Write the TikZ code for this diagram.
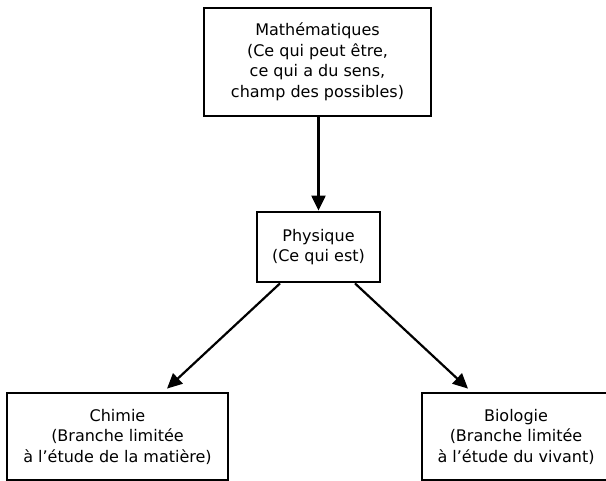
\documentclass[tikz,border=0pt]{standalone}
\usepackage{fontspec}
\setmainfont{DejaVu Sans}
\usetikzlibrary{arrows.meta}
\begin{document}
\begin{tikzpicture}[x=1pt,y=-1pt,
  box/.style={draw=black, line width=2.8pt, fill=white, inner sep=0pt, align=center,
    font={\fontsize{16}{20.5}\selectfont}},
  conn/.style={line width=2.2pt, -{Triangle[length=15pt,width=14pt]}}]
\useasboundingbox[fill=white] (0,0) rectangle (606,480);
\node[box, minimum width=227pt, minimum height=108pt] (m) at (317.5,62)
  {Mathématiques\\(Ce qui peut être,\\ce qui a du sens,\\champ des possibles)};
\node[box, minimum width=123pt, minimum height=70pt] (p) at (318.5,247)
  {Physique\\(Ce qui est)};
\node[box, minimum width=221pt, minimum height=87pt] (c) at (117.5,436.5)
  {Chimie\\(Branche limitée\\à l’étude de la matière)};
\node[box, minimum width=188pt, minimum height=87pt] (b) at (516,436.5)
  {Biologie\\(Branche limitée\\à l’étude du vivant)};
\draw[conn] (p.north |- m.south) -- (p.north);
\draw[conn] ([xshift=-38.5pt]p.south) -- ([xshift=49.5pt,yshift=3pt]c.north);
\draw[conn] ([xshift=36.5pt]p.south) -- ([xshift=-48pt,yshift=3pt]b.north);
\end{tikzpicture}
\end{document}
